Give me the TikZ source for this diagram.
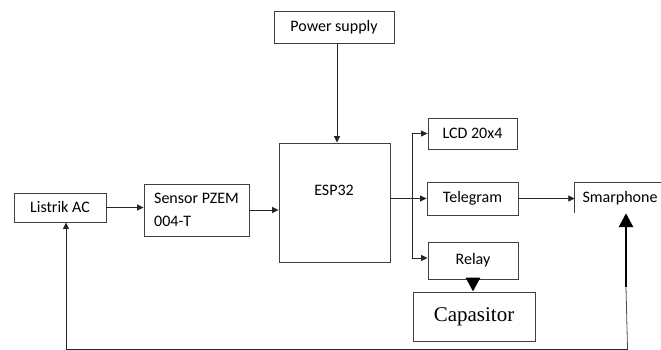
\documentclass[tikz,border=0pt]{standalone}
\usepackage{fontspec}
\setmainfont{Carlito}
\newfontfamily\capfont{Liberation Serif}
\usepackage{tikz}
\usetikzlibrary{arrows.meta,positioning}

\tikzset{
  block/.style={draw=black!75, line width=0.9pt, inner sep=0pt,
                font=\fontsize{16}{23}\selectfont},
  arr/.style={-{Triangle[length=6.5pt,width=6pt]}, line width=0.8pt, draw=black!85},
  fatarr/.style={-{Triangle[length=14pt,width=14pt]}, line width=2.8pt},
  wire/.style={line width=0.8pt, draw=black!70}
}

\begin{document}
\begin{tikzpicture}[x=1pt, y=-1pt]
  \useasboundingbox (0,0) rectangle (661,350);

  % input side
  \node[block, minimum width=92pt, minimum height=29pt] (listrik) at (60,207.5) {Listrik AC};
  \node[block, minimum width=105pt, minimum height=52pt, align=left] (sensor) at (196.5,210) {Sensor PZEM\\004-T};

  % controller
  \node[block, minimum width=120pt, minimum height=32pt] (power) at (334,27) {Power supply};
  \node[block, minimum width=111pt, minimum height=119pt] (esp) at (334.5,202.5) {};
  \node[font=\fontsize{16}{22}\selectfont] (esptxt) at (334,190) {ESP32};

  % outputs
  \node[block, minimum width=89pt, minimum height=31pt] (lcd) at (472.5,133.5) {LCD 20x4};
  \node[block, minimum width=91pt, minimum height=33pt] (tele) at (472.5,198.5) {Telegram};
  \node[block, minimum width=90pt, minimum height=37pt] (relay) at (473,260.5) {Relay};
  \node[block, minimum width=122pt, minimum height=49pt,
        font=\capfont\fontsize{21}{24}\selectfont] (cap) at (474,316.5) {Capasitor};
  \node[font=\fontsize{16}{22}\selectfont, minimum width=90pt, minimum height=30pt,
        inner sep=0pt] (smart) at (620,198) {Smarphone};
  \draw[draw=black!75, line width=0.9pt] (smart.south west) |- ([xshift=-4pt]smart.north east);

  \coordinate (fb) at (626,287);
  \coordinate (bot) at (627.5,349);

  \draw[arr] (listrik.east) -- (listrik.east -| sensor.west);
  \draw[arr] (sensor.east) -- (sensor.east -| esp.west);
  \draw[arr] ([xshift=3pt]power.south) -- ([xshift=3pt]power.south |- esp.north);

  \path (tele.west -| esp.east) ++(22pt,0) coordinate (split);
  \draw[arr] (tele.west -| esp.east) -- (tele.west);
  \draw[arr] (split) |- (lcd.west);
  \draw[arr] (split) |- ([yshift=2.5pt]relay.west);
  \draw[arr] (tele.east) -- (tele.east -| smart.west);

  \draw[fatarr] (relay.south) -- (relay.south |- cap.north);
  \draw[fatarr] (fb) -- (fb |- smart.south);

  % feedback to the mains
  \draw[wire] (fb) -- (bot);
  \draw[arr] (bot) -| ([xshift=6pt]listrik.south);
\end{tikzpicture}
\end{document}
